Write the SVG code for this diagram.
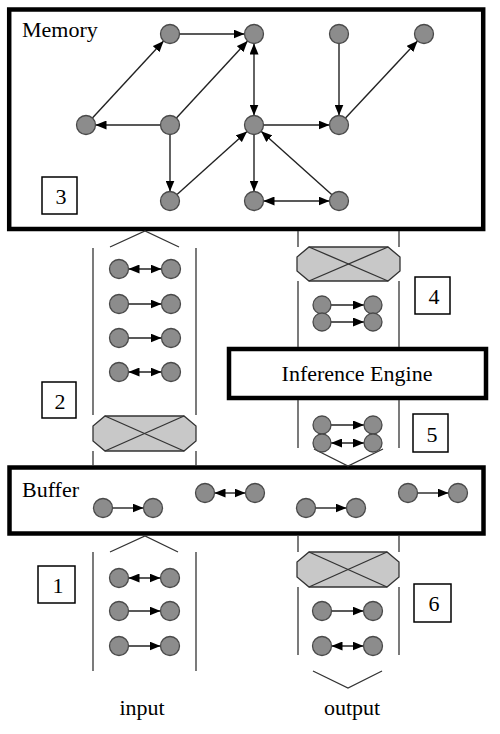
<svg xmlns="http://www.w3.org/2000/svg" width="500" height="734" viewBox="0 0 500 734">
<style>
.lbl{font-family:"Liberation Serif","Times New Roman",serif;font-size:22px;fill:#000}
.num{font-family:"Liberation Serif","Times New Roman",serif;font-size:22px;fill:#000;text-anchor:middle}
.big{fill:#fff;stroke:#000;stroke-width:4.5}
.box{fill:#fff;stroke:#000;stroke-width:1.5}
.nd{fill:#8c8c8c;stroke:#4a4a4a;stroke-width:1.3}
.e{stroke:#222;stroke-width:1.4;fill:none}
.col{stroke:#333;stroke-width:1.3;fill:none}
.oct{fill:#c8c8c8;stroke:#333;stroke-width:1.3}
</style>
<defs>
<marker id="ah" markerUnits="userSpaceOnUse" markerWidth="11" markerHeight="9" refX="11" refY="4.5" orient="auto-start-reverse">
<path d="M0,0 L11,4.5 L0,9 z" fill="#000"/>
</marker>
</defs>

<g id="memory">
<rect class="big" x="9.2" y="9.5" width="474" height="219.5"/>
<text class="lbl" x="22" y="37">Memory</text>
</g>

<g id="box3"><rect class="box" x="42" y="177" width="35" height="37"/><text class="num" x="61" y="204">3</text></g>
<g id="box2"><rect class="box" x="42" y="382" width="34" height="36"/><text class="num" x="60" y="409">2</text></g>
<g id="box4"><rect class="box" x="415" y="277" width="35" height="37"/><text class="num" x="434" y="304">4</text></g>
<g id="box5"><rect class="box" x="413" y="414" width="35" height="38"/><text class="num" x="432" y="442">5</text></g>
<g id="box1"><rect class="box" x="38" y="566" width="37" height="37"/><text class="num" x="58" y="593">1</text></g>
<g id="box6"><rect class="box" x="414" y="584" width="37" height="38"/><text class="num" x="434" y="611">6</text></g>

<g id="inference-engine">
<rect class="big" x="229" y="349" width="257" height="49"/>
<text class="num" x="357" y="381">Inference Engine</text>
</g>

<g id="buffer">
<rect class="big" x="9.5" y="467.5" width="474" height="66"/>
<text class="lbl" x="22" y="497">Buffer</text>
</g>

<g id="columns">
<polyline class="col" points="110,247 145,231 179,247"/>
<line class="col" x1="93" y1="248" x2="93" y2="415"/>
<line class="col" x1="196" y1="248" x2="196" y2="415"/>
<line class="col" x1="93" y1="451" x2="93" y2="466"/>
<line class="col" x1="196" y1="451" x2="196" y2="466"/>
<line class="col" x1="298" y1="231" x2="298" y2="247"/>
<line class="col" x1="399" y1="231" x2="399" y2="247"/>
<line class="col" x1="298" y1="281" x2="298" y2="347"/>
<line class="col" x1="399" y1="281" x2="399" y2="347"/>
<line class="col" x1="298" y1="400" x2="298" y2="448"/>
<line class="col" x1="399" y1="400" x2="399" y2="448"/>
<polyline class="col" points="314,449 348,466 383,449"/>
<polyline class="col" points="110,552 145,536 178,552"/>
<line class="col" x1="93" y1="552" x2="93" y2="671"/>
<line class="col" x1="196" y1="552" x2="196" y2="671"/>
<line class="col" x1="298" y1="536" x2="298" y2="552"/>
<line class="col" x1="399" y1="536" x2="399" y2="552"/>
<line class="col" x1="298" y1="587" x2="298" y2="655"/>
<line class="col" x1="399" y1="587" x2="399" y2="655"/>
<polyline class="col" points="313,671 348,688 382,671"/>
</g>

<g id="octagon-left">
<polygon class="oct" points="105,416 184,416 196,426 196,441 184,451 105,451 93,441 93,426"/>
<line class="col" x1="105" y1="416" x2="184" y2="451"/>
<line class="col" x1="184" y1="416" x2="105" y2="451"/>
</g>
<g id="octagon-right-top">
<polygon class="oct" points="309,247 388,247 400,257 400,271 388,281 309,281 297,271 297,257"/>
<line class="col" x1="309" y1="247" x2="388" y2="281"/>
<line class="col" x1="388" y1="247" x2="309" y2="281"/>
</g>
<g id="octagon-right-bottom">
<polygon class="oct" points="309,552 387,552 399,562 399,577 387,587 309,587 297,577 297,562"/>
<line class="col" x1="309" y1="552" x2="387" y2="587"/>
<line class="col" x1="387" y1="552" x2="309" y2="587"/>
</g>

<g id="connectors">
<!-- memory -->
<line class="e" x1="179.5" y1="34" x2="244.5" y2="34" marker-end="url(#ah)"/>
<line class="e" x1="92.4" y1="118" x2="163.6" y2="41" marker-end="url(#ah)"/>
<line class="e" x1="160.5" y1="125" x2="95.5" y2="125" marker-end="url(#ah)"/>
<line class="e" x1="176.4" y1="118" x2="247.6" y2="41" marker-end="url(#ah)"/>
<line class="e" x1="170" y1="134.5" x2="170" y2="191.5" marker-end="url(#ah)"/>
<line class="e" x1="177" y1="194.6" x2="247" y2="131.4" marker-end="url(#ah)"/>
<line class="e" x1="254" y1="115.5" x2="254" y2="43.5" marker-start="url(#ah)" marker-end="url(#ah)"/>
<line class="e" x1="339" y1="43.5" x2="339" y2="115.5" marker-end="url(#ah)"/>
<line class="e" x1="345.5" y1="118.1" x2="417.5" y2="40.9" marker-end="url(#ah)"/>
<line class="e" x1="263.5" y1="125" x2="329.5" y2="125" marker-end="url(#ah)"/>
<line class="e" x1="254" y1="134.5" x2="254" y2="191.5" marker-end="url(#ah)"/>
<line class="e" x1="263.5" y1="201" x2="329.5" y2="201" marker-start="url(#ah)" marker-end="url(#ah)"/>
<line class="e" x1="331.9" y1="194.7" x2="261.1" y2="131.3" marker-end="url(#ah)"/>
<!-- left column upper -->
<line class="e" x1="128.5" y1="269" x2="161.5" y2="269" marker-start="url(#ah)" marker-end="url(#ah)"/>
<line class="e" x1="128.5" y1="304" x2="161.5" y2="304" marker-end="url(#ah)"/>
<line class="e" x1="128.5" y1="338" x2="161.5" y2="338" marker-end="url(#ah)"/>
<line class="e" x1="128.5" y1="372" x2="161.5" y2="372" marker-start="url(#ah)" marker-end="url(#ah)"/>
<!-- right column stacked -->
<line class="e" x1="331" y1="305" x2="364" y2="305" marker-end="url(#ah)"/>
<line class="e" x1="331" y1="322" x2="364" y2="322" marker-end="url(#ah)"/>
<line class="e" x1="331" y1="425" x2="364" y2="425" marker-end="url(#ah)"/>
<line class="e" x1="331" y1="443" x2="364" y2="443" marker-start="url(#ah)" marker-end="url(#ah)"/>
<!-- buffer -->
<line class="e" x1="112.5" y1="508" x2="143.5" y2="508" marker-end="url(#ah)"/>
<line class="e" x1="214.5" y1="493" x2="245.5" y2="493" marker-start="url(#ah)" marker-end="url(#ah)"/>
<line class="e" x1="315.5" y1="508" x2="346.5" y2="508" marker-end="url(#ah)"/>
<line class="e" x1="417.5" y1="493" x2="448.5" y2="493" marker-end="url(#ah)"/>
<!-- bottom -->
<line class="e" x1="128.5" y1="578" x2="160.5" y2="578" marker-start="url(#ah)" marker-end="url(#ah)"/>
<line class="e" x1="128.5" y1="611" x2="160.5" y2="611" marker-end="url(#ah)"/>
<line class="e" x1="128.5" y1="646" x2="160.5" y2="646" marker-end="url(#ah)"/>
<line class="e" x1="331.5" y1="611" x2="363.5" y2="611" marker-end="url(#ah)"/>
<line class="e" x1="331.5" y1="646" x2="363.5" y2="646" marker-start="url(#ah)" marker-end="url(#ah)"/>
</g>

<g id="memory-nodes">
<circle class="nd" cx="170" cy="34" r="9.5"/>
<circle class="nd" cx="254" cy="34" r="9.5"/>
<circle class="nd" cx="339" cy="34" r="9.5"/>
<circle class="nd" cx="424" cy="34" r="9.5"/>
<circle class="nd" cx="86" cy="125" r="9.5"/>
<circle class="nd" cx="170" cy="125" r="9.5"/>
<circle class="nd" cx="254" cy="125" r="9.5"/>
<circle class="nd" cx="339" cy="125" r="9.5"/>
<circle class="nd" cx="170" cy="201" r="9.5"/>
<circle class="nd" cx="254" cy="201" r="9.5"/>
<circle class="nd" cx="339" cy="201" r="9.5"/>
</g>
<g id="left-upper-nodes">
<circle class="nd" cx="119" cy="269" r="9.5"/><circle class="nd" cx="171" cy="269" r="9.5"/>
<circle class="nd" cx="119" cy="304" r="9.5"/><circle class="nd" cx="171" cy="304" r="9.5"/>
<circle class="nd" cx="119" cy="338" r="9.5"/><circle class="nd" cx="171" cy="338" r="9.5"/>
<circle class="nd" cx="119" cy="372" r="9.5"/><circle class="nd" cx="171" cy="372" r="9.5"/>
</g>
<g id="right-upper-nodes">
<circle class="nd" cx="322" cy="305" r="9"/><circle class="nd" cx="373" cy="305" r="9"/>
<circle class="nd" cx="322" cy="322" r="9"/><circle class="nd" cx="373" cy="322" r="9"/>
<circle class="nd" cx="322" cy="425" r="9"/><circle class="nd" cx="373" cy="425" r="9"/>
<circle class="nd" cx="322" cy="443" r="9"/><circle class="nd" cx="373" cy="443" r="9"/>
</g>
<g id="buffer-nodes">
<circle class="nd" cx="103" cy="508" r="9.5"/><circle class="nd" cx="153" cy="508" r="9.5"/>
<circle class="nd" cx="205" cy="493" r="9.5"/><circle class="nd" cx="255" cy="493" r="9.5"/>
<circle class="nd" cx="306" cy="508" r="9.5"/><circle class="nd" cx="356" cy="508" r="9.5"/>
<circle class="nd" cx="408" cy="493" r="9.5"/><circle class="nd" cx="458" cy="493" r="9.5"/>
</g>
<g id="bottom-nodes">
<circle class="nd" cx="119" cy="578" r="9.5"/><circle class="nd" cx="170" cy="578" r="9.5"/>
<circle class="nd" cx="119" cy="611" r="9.5"/><circle class="nd" cx="170" cy="611" r="9.5"/>
<circle class="nd" cx="119" cy="646" r="9.5"/><circle class="nd" cx="170" cy="646" r="9.5"/>
<circle class="nd" cx="322" cy="611" r="9.5"/><circle class="nd" cx="373" cy="611" r="9.5"/>
<circle class="nd" cx="322" cy="646" r="9.5"/><circle class="nd" cx="373" cy="646" r="9.5"/>
</g>
<g id="io-labels">
<text class="num" x="142" y="715">input</text>
<text class="num" x="352" y="715">output</text>
</g>
</svg>
